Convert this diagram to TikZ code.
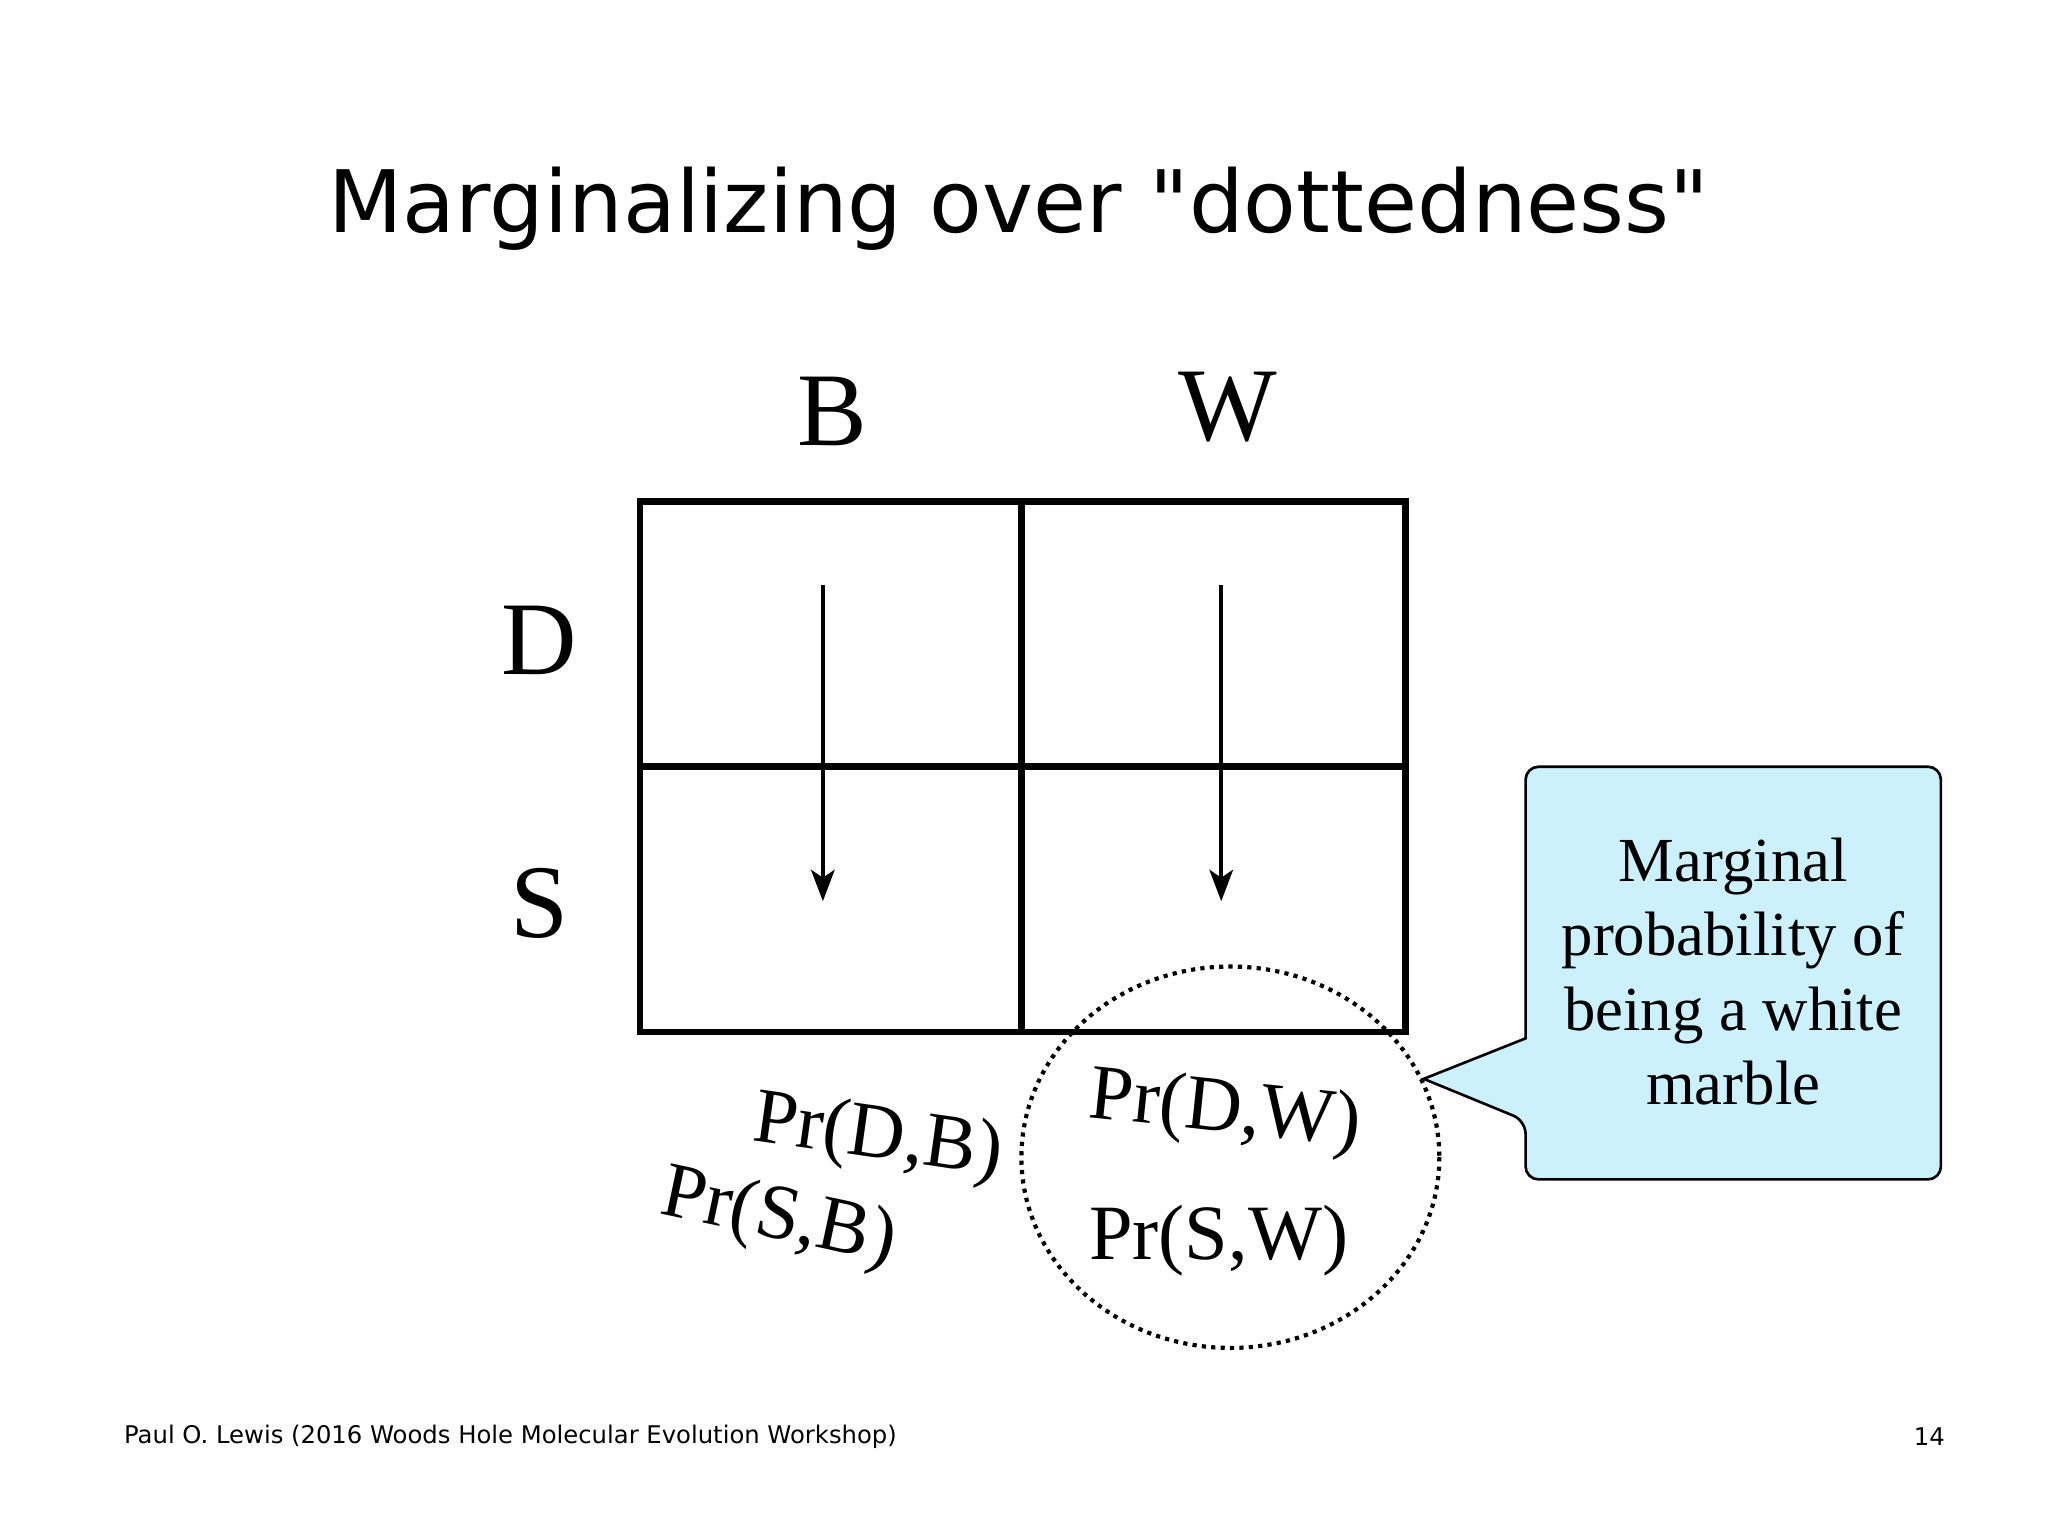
\documentclass[tikz,border=0pt]{standalone}
\usepackage{fontspec}
\setmainfont{Liberation Serif}
\newfontfamily\titlefont{DejaVu Sans}
\usetikzlibrary{arrows.meta}
\begin{document}
\begin{tikzpicture}[x=0.5pt,y=-0.5pt,
  lab/.style={font=\fontsize{40}{44}\selectfont},
  pr/.style={font=\fontsize{30}{34}\selectfont},
  arr/.style={line width=1.6pt,-{Stealth[length=12pt,width=9pt,inset=3pt]}}]
\useasboundingbox (0,0) rectangle (1568,1176);
\node (title) at (780,160) {\titlefont\fontsize{33}{38}\selectfont Marginalizing over "dottedness"};
\draw[line width=2.5pt] (490,384) rectangle (1076,790);
\draw[line width=2.5pt] (782,384) -- (782,790);
\draw[line width=2.5pt] (490,587) -- (1076,587);
\node[lab] (B) at (637,315) {B};
\node[lab] (W) at (940,312) {W};
\node[lab] (D) at (413,490) {D};
\node[lab] (S) at (413,692) {S};
\coordinate (a1) at (630,448); \coordinate (a2) at (630,690);
\coordinate (b1) at (935,448); \coordinate (b2) at (935,690);
\draw[arr] (a1) -- (a2);
\draw[arr] (b1) -- (b2);
\node[pr,rotate=-8] (pdb) at (672,872) {Pr(D,B)};
\node[pr,rotate=-12] (psb) at (596,934) {Pr(S,B)};
\node[pr,rotate=-6] (pdw) at (938,852) {Pr(D,W)};
\node[pr] (psw) at (933,950) {Pr(S,W)};
\draw[line width=1.6pt,dotted] (942,886) ellipse (160 and 146);
\draw[line width=1pt,fill={rgb,255:red,204;green,240;blue,252},rounded corners=5pt]
  (1168,587) -- (1486,587) -- (1486,903) -- (1168,903) -- (1168,858)
  [sharp corners] -- (1090,826) -- (1168,795) [rounded corners=5pt] -- cycle;
\node[align=center,font=\fontsize{24}{28.5}\selectfont] (call) at (1327,744) {Marginal\\probability of\\being a white\\marble};
\node[anchor=west,font=\titlefont\fontsize{9.3}{11}\selectfont] (foot) at (88,1100) {Paul O. Lewis (2016 Woods Hole Molecular Evolution Workshop)};
\node[anchor=east,font=\titlefont\fontsize{9.3}{11}\selectfont] (num) at (1496,1100) {14};
\end{tikzpicture}
\end{document}
